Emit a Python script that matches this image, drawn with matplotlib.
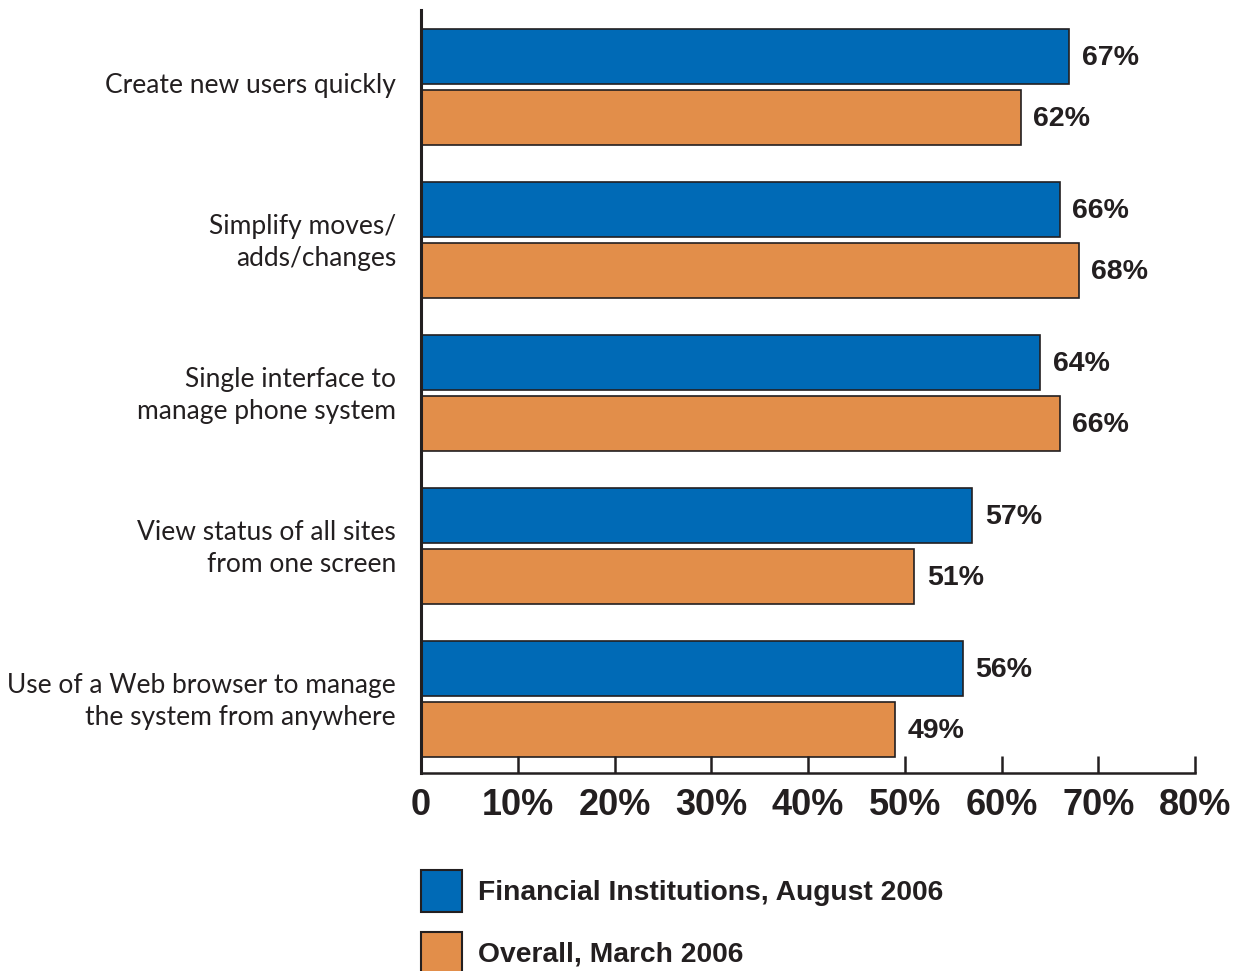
import matplotlib as mpl
mpl.use('Agg')
import matplotlib.pyplot as plt
import numpy as np

categories = [
    "Create new users quickly",
    "Simplify moves/\nadds/changes",
    "Single interface to\nmanage phone system",
    "View status of all sites\nfrom one screen",
    "Use of a Web browser to manage\nthe system from anywhere",
]
financial_2006 = [67, 66, 64, 57, 56]
overall_2006 = [62, 68, 66, 51, 49]
series_names = ["Financial Institutions, August 2006", "Overall, March 2006"]
tick_values = [0, 10, 20, 30, 40, 50, 60, 70, 80]
tick_labels = ["0", "10%", "20%", "30%", "40%", "50%", "60%", "70%", "80%"]

BLUE = "#006ab6"
ORANGE = "#e28e4a"
EDGE = "#231f20"
TEXT = "#231f20"

plt.rcParams['font.family'] = ['Liberation Sans', 'DejaVu Sans']

fig = plt.figure(figsize=(12.47, 9.71), dpi=100)
ax = fig.add_axes([421 / 1247, 1 - 773 / 971, 774 / 1247, 763 / 971])

y = np.arange(len(categories))
h = 0.359
off = 0.199
ax.barh(y - off, financial_2006, height=h, color=BLUE, edgecolor=EDGE, linewidth=1.2)
ax.barh(y + off, overall_2006, height=h, color=ORANGE, edgecolor=EDGE, linewidth=1.2)

# value labels just past the bar ends
for yi, v in zip(y - off, financial_2006):
    ax.text(v + 1.3, yi + 0.01, f"{v}%", va='center', ha='left', fontsize=20.5,
            fontweight='bold', color=TEXT)
for yi, v in zip(y + off, overall_2006):
    ax.text(v + 1.3, yi + 0.01, f"{v}%", va='center', ha='left', fontsize=20.5,
            fontweight='bold', color=TEXT)

ax.set_xlim(0, 80)
ax.set_ylim(4.484, -0.503)

ax.set_xticks(tick_values)
ax.set_xticklabels(tick_labels, fontsize=26, fontweight='bold', color=TEXT)
ax.tick_params(axis='x', direction='in', length=12, width=1.8, color=EDGE, pad=11)

ax.set_yticks(y - 0.025)
ax.set_yticklabels(categories, fontsize=19, color=TEXT, family=['Lato', 'DejaVu Sans'],
                   fontweight='normal', linespacing=1.38)
ax.tick_params(axis='y', length=0, pad=18)

for side in ('top', 'right'):
    ax.spines[side].set_visible(False)
ax.spines['left'].set_linewidth(2.2)
ax.spines['bottom'].set_linewidth(1.8)
ax.spines['left'].set_color(EDGE)
ax.spines['bottom'].set_color(EDGE)

handles = [plt.Rectangle((0, 0), 1, 1, facecolor=BLUE, edgecolor=EDGE, linewidth=1.5),
           plt.Rectangle((0, 0), 1, 1, facecolor=ORANGE, edgecolor=EDGE, linewidth=1.5)]
leg = fig.legend(handles, series_names, loc='upper left',
                 bbox_to_anchor=(421 / 1247, 1 - 870 / 971),
                 frameon=False, fontsize=20.3, handlelength=1.45, handleheight=1.9,
                 handletextpad=0.58, labelspacing=0.72, borderpad=0, borderaxespad=0)
for t in leg.get_texts():
    t.set_fontweight('bold')
    t.set_color(TEXT)

fig.savefig('out.png', dpi=100)
